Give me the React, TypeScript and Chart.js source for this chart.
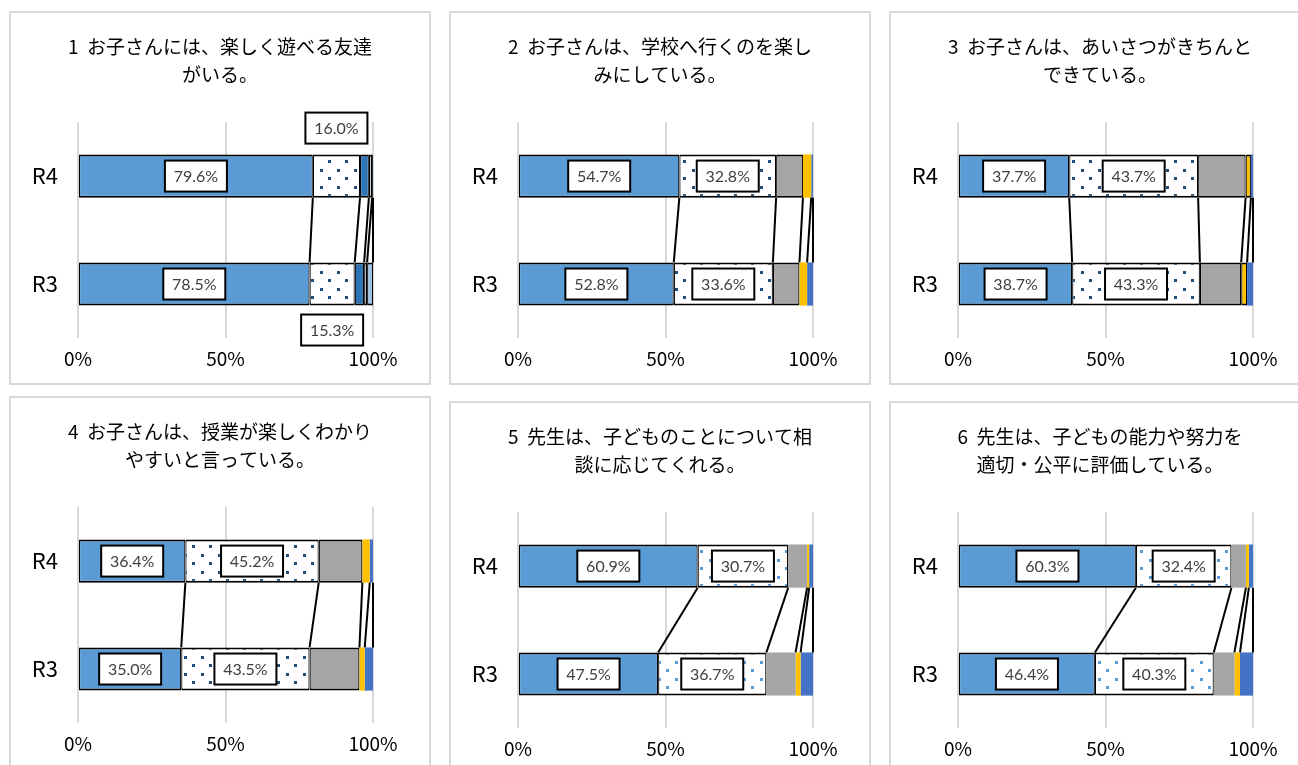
import React, { useEffect, useRef } from "react";
import { Chart, registerables } from "chart.js";

Chart.register(...registerables);

// ---------- data ----------
const categories = ["R4", "R3"];
const seriesNames = [
  "そう思う",
  "どちらかといえばそう思う",
  "どちらかといえばそう思わない",
  "そう思わない",
  "わからない",
];
const xTickValues = [0, 50, 100];
const xTickLabels = ["0%", "50%", "100%"];

const titleQ1 = ["1  お子さんには、楽しく遊べる友達", "がいる。"];
const titleQ2 = ["2  お子さんは、学校へ行くのを楽し", "みにしている。"];
const titleQ3 = ["3  お子さんは、あいさつがきちんと", "できている。"];
const titleQ4 = ["4  お子さんは、授業が楽しくわかり", "やすいと言っている。"];
const titleQ5 = ["5  先生は、子どものことについて相", "談に応じてくれる。"];
const titleQ6 = ["6  先生は、子どもの能力や努力を", "適切・公平に評価している。"];

// values per category: [series1..series5] in %
const q1R4 = [79.6, 16.0, 3.0, 1.1, 0.3];
const q1R3 = [78.5, 15.3, 3.2, 1.0, 2.0];
const q2R4 = [54.7, 32.8, 9.1, 2.8, 0.6];
const q2R3 = [52.8, 33.6, 9.0, 2.6, 2.0];
const q3R4 = [37.7, 43.7, 16.1, 1.8, 0.7];
const q3R3 = [38.7, 43.3, 14.0, 2.0, 2.0];
const q4R4 = [36.4, 45.2, 14.8, 2.5, 1.1];
const q4R3 = [35.0, 43.5, 16.9, 1.8, 2.8];
const q5R4 = [60.9, 30.7, 6.4, 0.7, 1.3];
const q5R3 = [47.5, 36.7, 9.9, 1.7, 4.2];
const q6R4 = [60.3, 32.4, 4.9, 1.0, 1.4];
const q6R3 = [46.4, 40.3, 7.0, 1.9, 4.4];

// ---------- styles ----------
const PATTERN = "__pattern__";
const colorsQ1 = ["#5b9bd5", PATTERN, "#2e75b6", "#bdd7ee", "#9dc3e6"];
const colorsStd = ["#5b9bd5", PATTERN, "#a5a5a5", "#ffc000", "#4472c4"];

type PanelCfg = {
  title: string[];
  r4: number[];
  r3: number[];
  colors: string[];
  bordered: boolean[];
  dot: string;
  left: number;
  top: number;
  shifts: number[][];
};

const panels: PanelCfg[] = [
  { title: titleQ1, r4: q1R4, r3: q1R3, colors: colorsQ1, bordered: [true, true, true, true, true], dot: "#1f4e79", left: 9, top: 11, shifts: [[0, 0], [-48, 46]] },
  { title: titleQ2, r4: q2R4, r3: q2R3, colors: colorsStd, bordered: [true, true, true, false, false], dot: "#1f4e79", left: 449, top: 11, shifts: [[0, 0], [0, 0]] },
  { title: titleQ3, r4: q3R4, r3: q3R3, colors: colorsStd, bordered: [true, true, true, true, false], dot: "#1f4e79", left: 889, top: 11, shifts: [[0, 0], [0, 0]] },
  { title: titleQ4, r4: q4R4, r3: q4R3, colors: colorsStd, bordered: [true, true, true, false, false], dot: "#1f4e79", left: 9, top: 396, shifts: [[0, 0], [0, 0]] },
  { title: titleQ5, r4: q5R4, r3: q5R3, colors: colorsStd, bordered: [true, true, false, false, false], dot: "#5b9bd5", left: 449, top: 401, shifts: [[0, 0], [0, 0]] },
  { title: titleQ6, r4: q6R4, r3: q6R3, colors: colorsStd, bordered: [true, true, false, false, false], dot: "#5b9bd5", left: 889, top: 401, shifts: [[0, 0], [0, 0]] },
];

const CW = 418;
const CH = 370;

function makePattern(dot: string): CanvasPattern | string {
  const c = document.createElement("canvas");
  c.width = 17;
  c.height = 17;
  const g = c.getContext("2d");
  if (!g) return "#ffffff";
  g.fillStyle = "#ffffff";
  g.fillRect(0, 0, 17, 17);
  g.fillStyle = dot;
  g.fillRect(3, 3, 3, 3);
  g.fillRect(11, 11, 3, 3);
  const p = g.createPattern(c, "repeat");
  return p || "#ffffff";
}

const overlayPlugin = {
  id: "overlay",
  afterDatasetsDraw(chart: any, _args: any, opts: any) {
    const ctx: CanvasRenderingContext2D = chart.ctx;
    const n = chart.data.datasets.length;
    ctx.save();
    // series lines
    ctx.strokeStyle = "#000000";
    ctx.lineWidth = 2;
    for (let i = 0; i < n; i++) {
      const meta = chart.getDatasetMeta(i);
      const a: any = meta.data[0];
      const b: any = meta.data[1];
      if (!a || !b) continue;
      ctx.beginPath();
      ctx.moveTo(a.x, a.y + a.height / 2);
      ctx.lineTo(b.x, b.y - b.height / 2);
      ctx.stroke();
    }
    // data labels for first two series
    ctx.font = "16px Lato";
    ctx.textAlign = "center";
    ctx.textBaseline = "middle";
    const shifts: number[][] = (opts && opts.shifts) || [];
    for (let i = 0; i < 2; i++) {
      const meta = chart.getDatasetMeta(i);
      meta.data.forEach((el: any, j: number) => {
        const v = chart.data.datasets[i].data[j] as number;
        const cx = (el.x + el.base) / 2;
        const cy = el.y + ((shifts[i] && shifts[i][j]) || 0);
        const w = 62;
        const h = 31;
        ctx.fillStyle = "#ffffff";
        ctx.fillRect(cx - w / 2, cy - h / 2, w, h);
        ctx.lineWidth = 2;
        ctx.strokeStyle = "#000000";
        ctx.strokeRect(cx - w / 2, cy - h / 2, w, h);
        ctx.fillStyle = "#404040";
        ctx.fillText(v.toFixed(1) + "%", cx, cy + 1);
      });
    }
    ctx.restore();
  },
};

function Panel({ cfg }: { cfg: PanelCfg }) {
  const ref = useRef<HTMLCanvasElement | null>(null);
  useEffect(() => {
    if (!ref.current) return;
    const pattern = makePattern(cfg.dot);
    const datasets = seriesNames.map((name, i) => ({
      label: name,
      data: [cfg.r4[i], cfg.r3[i]],
      backgroundColor: cfg.colors[i] === PATTERN ? pattern : cfg.colors[i],
      borderColor: "#000000",
      borderWidth: cfg.bordered[i] ? { top: 2, bottom: 2, left: 1.2, right: 1.2 } : 0,
      borderSkipped: false,
      categoryPercentage: 1,
      barPercentage: 0.4,
      yAxisID: "y",
    }));
    const chart = new Chart(ref.current, {
      type: "bar",
      data: { labels: categories, datasets: datasets as any },
      plugins: [overlayPlugin as any],
      options: {
        indexAxis: "y",
        responsive: false,
        animation: false,
        devicePixelRatio: window.devicePixelRatio || 1,
        layout: { padding: 0 },
        plugins: {
          legend: { display: false },
          tooltip: { enabled: false },
          title: {
            display: true,
            text: cfg.title,
            color: "#000000",
            font: { family: "'Noto Sans CJK JP', sans-serif", size: 19, weight: "normal", lineHeight: 1.45 },
            padding: { top: 20, bottom: 34 },
          },
          overlay: { shifts: cfg.shifts },
        } as any,
        scales: {
          x: {
            stacked: true,
            min: 0,
            max: 100,
            afterBuildTicks: (scale: any) => {
              scale.ticks = xTickValues.map((v) => ({ value: v }));
            },
            afterFit: (scale: any) => {
              scale.height = 45;
            },
            ticks: {
              padding: 9,
              color: "#000000",
              font: { family: "'Noto Sans CJK JP', sans-serif", size: 19 },
              maxRotation: 0,
              callback: (v: any) => {
                const idx = xTickValues.indexOf(Number(v));
                return idx >= 0 ? xTickLabels[idx] : "";
              },
            },
            grid: { color: "#d9d9d9", lineWidth: 2, drawTicks: false },
            border: { display: false },
          },
          y: {
            stacked: true,
            afterFit: (scale: any) => {
              scale.width = 67;
            },
            ticks: {
              padding: 20,
              color: "#000000",
              font: { family: "'Noto Sans CJK JP', sans-serif", size: 22 },
            },
            grid: { display: false, drawTicks: false },
            border: { display: false },
          },
          yRight: {
            type: "category",
            position: "right",
            afterFit: (scale: any) => {
              scale.width = 56;
            },
            ticks: { display: false },
            grid: { display: false, drawTicks: false },
            border: { display: false },
          },
        },
      } as any,
    });
    return () => chart.destroy();
  }, [cfg]);

  return (
    <div
      style={{
        position: "absolute",
        left: cfg.left,
        top: cfg.top,
        width: CW + 4,
        height: CH + 4,
        boxSizing: "border-box",
        border: "2px solid #d9d9d9",
        background: "#ffffff",
      }}
    >
      <canvas ref={ref} width={CW} height={CH} style={{ display: "block", width: CW, height: CH }} />
    </div>
  );
}

export default function App() {
  return (
    <div
      style={{
        position: "fixed",
        left: 0,
        top: 0,
        width: 1298,
        height: 765,
        overflow: "hidden",
        background: "#ffffff",
      }}
    >
      {panels.map((p, i) => (
        <Panel key={i} cfg={p} />
      ))}
    </div>
  );
}
